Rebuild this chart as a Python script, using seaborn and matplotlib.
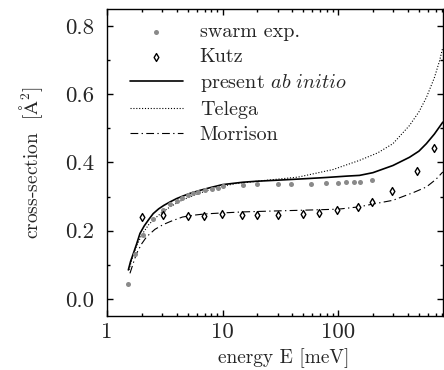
import numpy as np
import pandas as pd
import matplotlib
matplotlib.use("Agg")
import matplotlib.pyplot as plt
import seaborn as sns
from matplotlib.ticker import FixedLocator, MultipleLocator, FixedFormatter, LogLocator, NullFormatter

# ---------------- data ----------------
swarm_E = [1.53, 1.75, 2.03, 2.51, 3.03, 3.5, 4.0, 4.5, 5.05, 5.57, 6.15, 7.03, 8.03,
           9.2, 10.0, 15.1, 19.9, 29.9, 39.2, 58.8, 79.2, 100, 118, 136, 156, 196]
swarm_sigma = [0.044, 0.133, 0.188, 0.234, 0.260, 0.277, 0.287, 0.297, 0.304, 0.309,
               0.313, 0.318, 0.323, 0.326, 0.330, 0.333, 0.338, 0.338, 0.338, 0.338,
               0.340, 0.341, 0.342, 0.343, 0.344, 0.349]

kutz_E = [2.0, 3.03, 4.98, 6.93, 9.8, 14.6, 20, 30, 49.6, 68.7, 97, 148, 198, 294, 484, 672]
kutz_sigma = [0.240, 0.245, 0.242, 0.242, 0.248, 0.245, 0.245, 0.245, 0.248, 0.253,
              0.260, 0.270, 0.284, 0.315, 0.374, 0.443]

present_E = [1.53, 1.6, 1.69, 1.8, 1.93, 2.1, 2.3, 2.51, 2.8, 3.1, 3.5, 4.0, 4.5, 5.2,
             6.35, 8.0, 10, 15, 20, 30, 50, 80, 120, 153, 200, 298, 414, 500, 580, 680, 805]
present_sigma = [0.085, 0.110, 0.133, 0.160, 0.192, 0.214, 0.233, 0.250, 0.264, 0.274,
                 0.284, 0.294, 0.301, 0.309, 0.318, 0.327, 0.335, 0.342, 0.345, 0.348,
                 0.352, 0.356, 0.360, 0.362, 0.370, 0.391, 0.415, 0.433, 0.455, 0.483, 0.518]

telega_E = [1.55, 1.65, 1.8, 2.0, 2.3, 2.6, 3.0, 3.6, 4.5, 5.5, 7, 9.2, 13, 20, 30, 45,
            90, 153, 220, 298, 414, 500, 580, 680, 755, 805]
telega_sigma = [0.085, 0.118, 0.155, 0.188, 0.218, 0.236, 0.254, 0.272, 0.290, 0.302,
                0.315, 0.328, 0.338, 0.345, 0.351, 0.357, 0.379, 0.406, 0.428, 0.455,
                0.508, 0.548, 0.590, 0.648, 0.698, 0.737]

morrison_E = [1.58, 1.7, 1.8, 2.0, 2.2, 2.6, 3.07, 3.6, 4.5, 5.5, 7, 10, 15, 30, 50, 100,
              153, 200, 298, 450, 580, 700, 805]
morrison_sigma = [0.075, 0.108, 0.133, 0.162, 0.182, 0.204, 0.218, 0.228, 0.240, 0.245,
                  0.249, 0.252, 0.255, 0.258, 0.260, 0.263, 0.270, 0.278, 0.289, 0.312,
                  0.328, 0.350, 0.372]

x_ticks = [1, 10, 100]
x_tick_labels = ["1", "10", "100"]
y_ticks = [0.0, 0.2, 0.4, 0.6, 0.8]
y_tick_labels = ["0.0", "0.2", "0.4", "0.6", "0.8"]

# ---------------- style ----------------
sns.set_style("ticks")
plt.rcParams["font.family"] = ["cmr10", "DejaVu Serif"]
plt.rcParams["mathtext.fontset"] = "cm"
plt.rcParams["axes.formatter.use_mathtext"] = True
plt.rcParams["axes.unicode_minus"] = False
FS_TICK = 16.5
FS_LAB = 14
FS_LEG = 14.5

fig = plt.figure(figsize=(4.44, 3.70), dpi=100)
ax = fig.add_axes([0.241, 0.146, 0.757, 0.830])
ax.set_xscale("log")

sns.scatterplot(x=swarm_E, y=swarm_sigma, ax=ax, color="#8a8a8a", marker="o", s=13,
                linewidth=0, label="swarm exp.", zorder=3)
sns.scatterplot(x=kutz_E, y=kutz_sigma, ax=ax, marker="d", s=16, facecolor="white",
                edgecolor="black", linewidth=1.0, label="Kutz", zorder=4)
sns.lineplot(x=present_E, y=present_sigma, ax=ax, color="black", lw=1.2, sort=False,
             estimator=None, label=r"present $\mathit{ab\ initio}$", zorder=2)
sns.lineplot(x=telega_E, y=telega_sigma, ax=ax, color="black", lw=0.8, sort=False,
             estimator=None, label="Telega", zorder=2, linestyle=(0, (1, 1.6)))
sns.lineplot(x=morrison_E, y=morrison_sigma, ax=ax, color="black", lw=0.8, sort=False,
             estimator=None, label="Morrison", zorder=2, linestyle=(0, (7, 3, 1.2, 3)))

ax.set_xlim(1, 810)
ax.set_ylim(-0.05, 0.85)

ax.xaxis.set_major_locator(FixedLocator(x_ticks))
ax.xaxis.set_major_formatter(FixedFormatter(x_tick_labels))
ax.xaxis.set_minor_locator(LogLocator(base=10, subs=np.arange(2, 10)))
ax.xaxis.set_minor_formatter(NullFormatter())
ax.yaxis.set_major_locator(FixedLocator(y_ticks))
ax.yaxis.set_major_formatter(FixedFormatter(y_tick_labels))
ax.yaxis.set_minor_locator(MultipleLocator(0.1))

ax.tick_params(which="both", direction="in", top=True, right=True, labelsize=FS_TICK,
               color="black", width=1.0)
ax.tick_params(which="major", length=4.5)
ax.tick_params(which="minor", length=2.5)
ax.tick_params(axis="y", which="major", pad=9)
ax.tick_params(axis="x", which="major", pad=5)
for sp in ax.spines.values():
    sp.set_visible(True)
    sp.set_linewidth(1.0)
    sp.set_color("black")

ax.set_xlabel("energy E [meV]", fontsize=FS_LAB, labelpad=4, x=0.527)
ax.set_ylabel(r"cross-section  [$\mathrm{\AA}^2$]", fontsize=FS_LAB, labelpad=15)

leg = ax.legend(loc="upper left", frameon=False, fontsize=FS_LEG, handlelength=2.64,
                handletextpad=0.85, labelspacing=0.33, borderaxespad=0.3,
                bbox_to_anchor=(0.025, 1.0))

fig.savefig("out.png", dpi=100)
